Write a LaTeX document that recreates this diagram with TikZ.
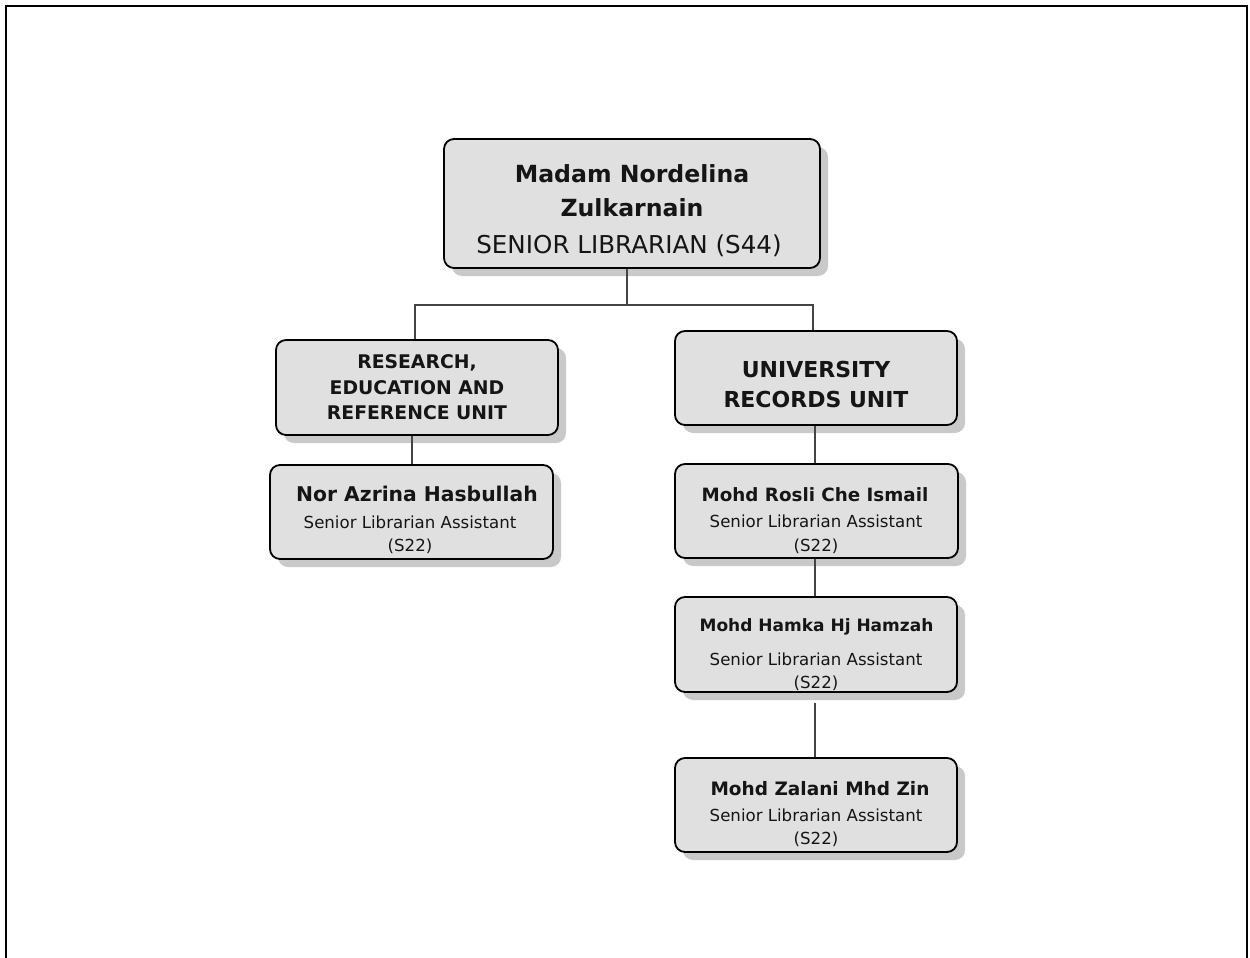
\documentclass[tikz,border=0pt]{standalone}
\usepackage{fontspec}
\setmainfont{DejaVu Sans}
\usetikzlibrary{shadows}
\definecolor{boxfill}{HTML}{E0E0E0}
\definecolor{shadowc}{HTML}{C9C9C9}
\definecolor{linec}{HTML}{444444}
\definecolor{txt}{HTML}{151515}
\begin{document}
\begin{tikzpicture}[x=1pt,y=-1pt,
  box/.style={draw=black, line width=1.8pt, fill=boxfill, rounded corners=10pt, inner sep=0pt,
    drop shadow={shadow xshift=8pt, shadow yshift=-8pt, fill=shadowc, opacity=1}},
  conn/.style={draw=linec, line width=1.2pt},
  lbl/.style={text=txt, inner sep=0pt, anchor=center},
  bigname/.style={lbl, font=\fontsize{23.6}{26}\selectfont\bfseries},
  bigrole/.style={lbl, font=\fontsize{24.6}{26}\selectfont},
  unitsm/.style={lbl, font=\fontsize{18.8}{20}\selectfont\bfseries},
  unitlg/.style={lbl, font=\fontsize{22}{24}\selectfont\bfseries},
  pname/.style={lbl, font=\fontsize{20.3}{22}\selectfont\bfseries},
  pnamez/.style={lbl, font=\fontsize{18.5}{22}\selectfont\bfseries},
  pnamesm/.style={lbl, font=\fontsize{18.3}{22}\selectfont\bfseries},
  pnameh/.style={lbl, font=\fontsize{17}{22}\selectfont\bfseries},
  prole/.style={lbl, font=\fontsize{16.6}{18}\selectfont},
]
\useasboundingbox (0,0) rectangle (1250,958);
\draw[line width=2.5pt, black] (6,970) -- (6,6) -- (1247,6) -- (1247,970);

% connector junctions
\coordinate (jC) at (627,305);
\coordinate (jL) at (415,305);
\coordinate (jR) at (813,305);
\coordinate (xL) at (412,0);
\coordinate (xR) at (815,0);

% boxes
\node[box, minimum width=376pt, minimum height=129pt] (top) at (632,203.5) {};
\node[box, minimum width=282pt, minimum height=95pt] (unitL) at (417,387.5) {};
\node[box, minimum width=282pt, minimum height=94pt] (unitR) at (816,378) {};
\node[box, minimum width=283pt, minimum height=94pt] (azrina) at (411.5,512) {};
\node[box, minimum width=283pt, minimum height=94pt] (rosli) at (816.5,511) {};
\node[box, minimum width=282pt, minimum height=95pt] (hamka) at (816,644.5) {};
\node[box, minimum width=282pt, minimum height=94pt] (zalani) at (816,805) {};

% connectors
\draw[conn] (top.south -| jC) -- (jC);
\draw[conn] (jL |- unitL.north) -- (jL) -- (jR) -- (jR |- unitR.north);
\draw[conn] (unitL.south -| xL) -- (azrina.north -| xL);
\draw[conn] (unitR.south -| xR) -- (rosli.north -| xR);
\draw[conn] (rosli.south -| xR) -- (hamka.north -| xR);
\draw[conn] ([yshift=-10pt]hamka.south -| xR) -- (zalani.north -| xR);

% texts
\node[bigname] (t1) at (632,174) {Madam Nordelina};
\node[bigname] (t2) at (632,208) {Zulkarnain};
\node[bigrole] (t3) at (629,246) {SENIOR LIBRARIAN (S44)};

\node[unitsm] (l1) at (417,363) {RESEARCH,};
\node[unitsm] (l2) at (417,388) {EDUCATION AND};
\node[unitsm] (l3) at (417,413) {REFERENCE UNIT};

\node[unitlg] (r1) at (816,369) {UNIVERSITY};
\node[unitlg] (r2) at (816,399) {RECORDS UNIT};

\node[pname] (a1) at (417,494) {Nor Azrina Hasbullah};
\node[prole] (a2) at (410,522) {Senior Librarian Assistant};
\node[prole] (a3) at (410,546) {(S22)};

\node[pnamesm] (b1) at (815,495) {Mohd Rosli Che Ismail};
\node[prole] (b2) at (816,521) {Senior Librarian Assistant};
\node[prole] (b3) at (816,546) {(S22)};

\node[pnameh] (c1) at (816.5,627) {Mohd Hamka Hj Hamzah};
\node[prole] (c2) at (816,659) {Senior Librarian Assistant};
\node[prole] (c3) at (816,683) {(S22)};

\node[pnamez] (d1) at (820,789) {Mohd Zalani Mhd Zin};
\node[prole] (d2) at (816,815) {Senior Librarian Assistant};
\node[prole] (d3) at (816,839) {(S22)};
\end{tikzpicture}
\end{document}
